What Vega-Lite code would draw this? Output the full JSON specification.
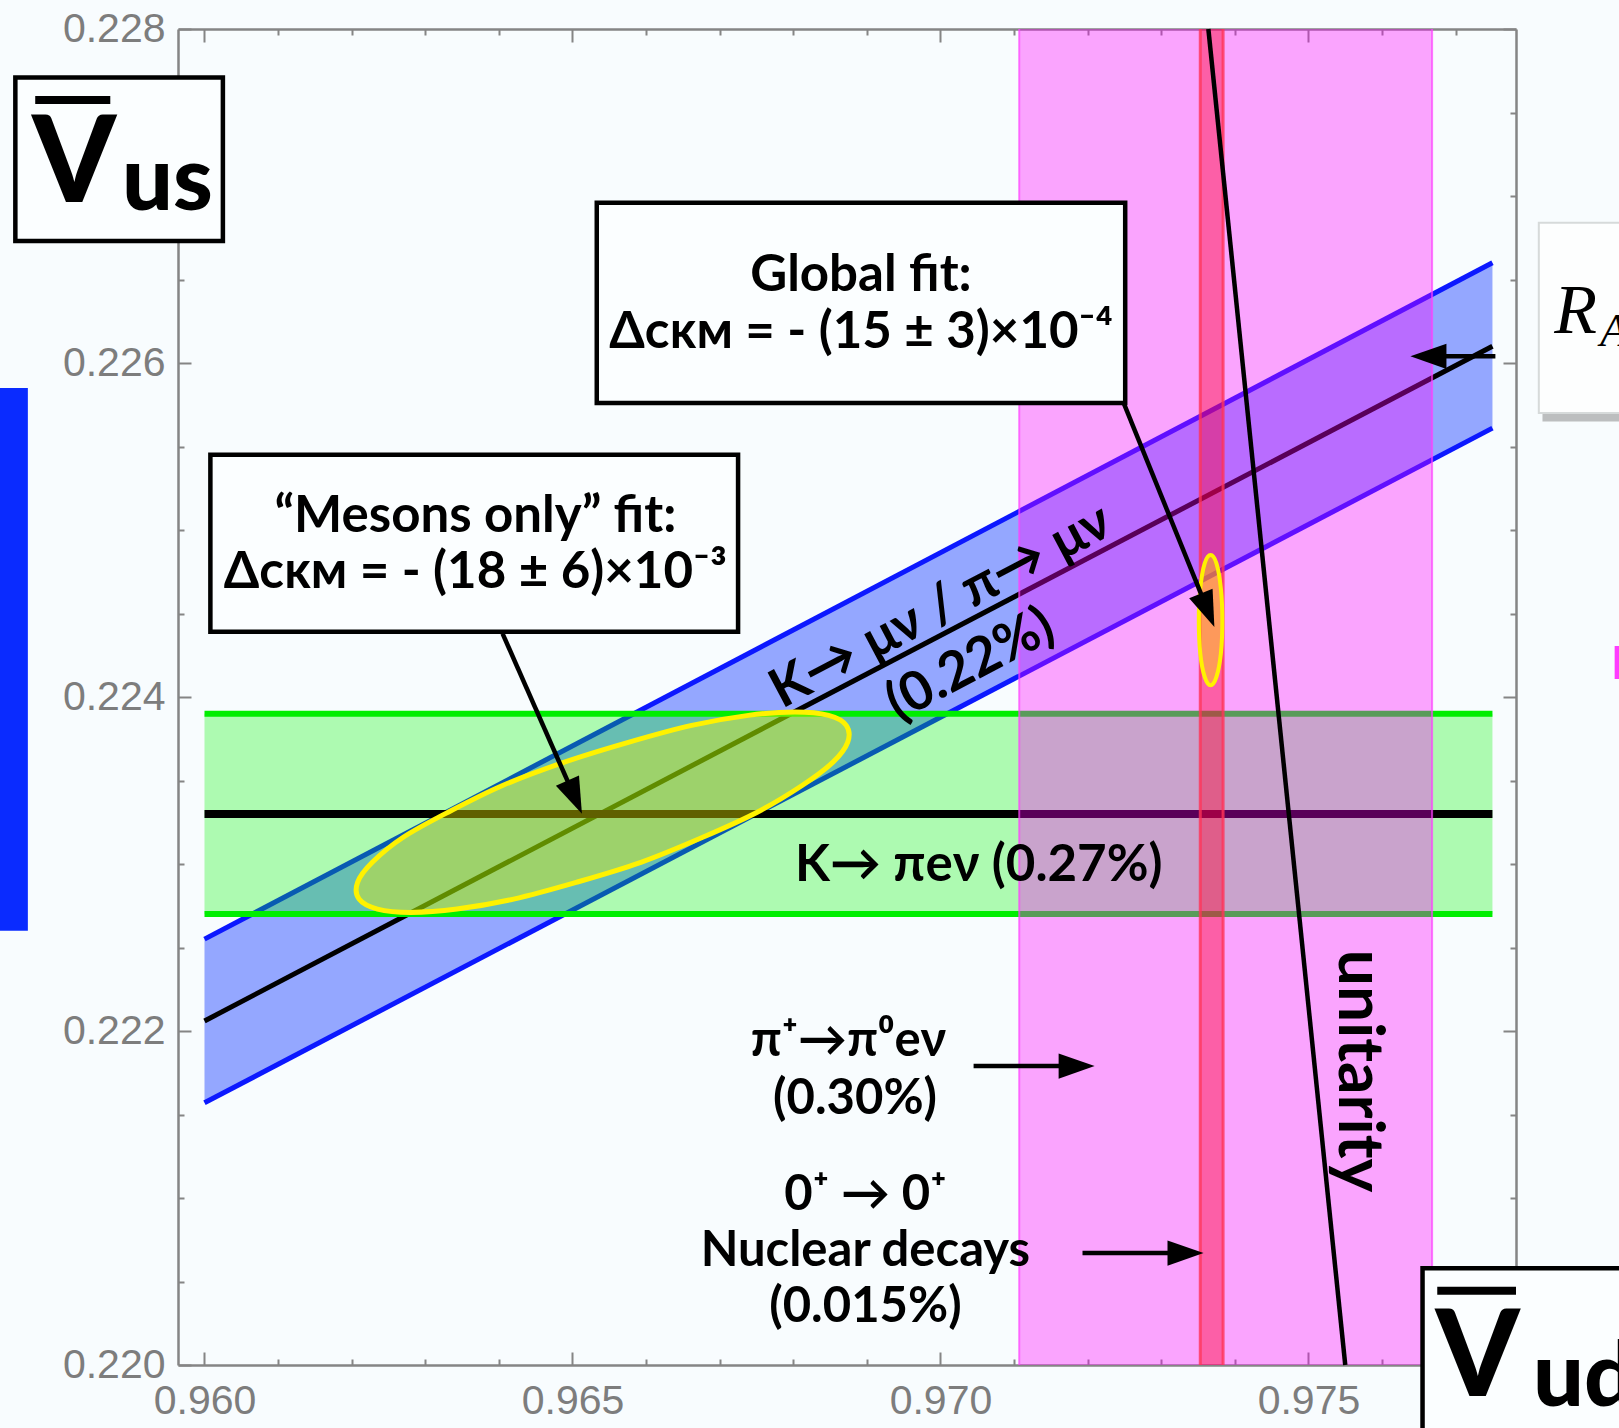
{
  "$schema": "https://vega.github.io/schema/vega-lite/v6.json",
  "width": 1338,
  "height": 1336,
  "autosize": {"type": "none"},
  "padding": {"left": 178, "top": 29, "right": 103, "bottom": 63},
  "background": "#f8fcfe",
  "config": {
    "view": {"stroke": null},
    "axis": {
      "domainColor": "#858585", "domainWidth": 2.5,
      "tickColor": "#858585", "tickWidth": 2,
      "grid": false, "title": null,
      "labelFont": "Liberation Sans", "labelFontSize": 41, "labelColor": "#7d7d7d",
      "labelOverlap": false, "labelFlush": false, "labelBound": false
    },
    "text": {"font": "Lato", "fontWeight": "bold", "fontSize": 51, "color": "#000000"}
  },
  "resolve": {"axis": {"x": "independent", "y": "independent"}},
  "encoding": {
    "x": {"field": "x", "type": "quantitative", "scale": {"domain": [0.95964, 0.97782], "nice": false, "zero": false}, "axis": null},
    "y": {"field": "y", "type": "quantitative", "scale": {"domain": [0.22, 0.228], "nice": false, "zero": false}, "axis": null}
  },
  "layer": [
    {
      "data": {"values": [{"x": 0.96, "y": 0.22157, "y2": 0.22255}, {"x": 0.9775, "y": 0.22561, "y2": 0.2266}]},
      "mark": {"type": "area", "fill": "#2f52ff", "fillOpacity": 0.5},
      "encoding": {"y2": {"field": "y2"}}
    },
    {
      "data": {"values": [{"x": 0.96, "y": 0.22255, "x2": 0.9775, "y2": 0.2266}, {"x": 0.96, "y": 0.22157, "x2": 0.9775, "y2": 0.22561}]},
      "mark": {"type": "rule", "color": "#0c18ff", "strokeWidth": 5},
      "encoding": {"x2": {"field": "x2"}, "y2": {"field": "y2"}}
    },
    {
      "data": {"values": [{"x": 0.96, "y": 0.22206, "x2": 0.9775, "y2": 0.2261}]},
      "mark": {"type": "rule", "color": "#000000", "strokeWidth": 5},
      "encoding": {"x2": {"field": "x2"}, "y2": {"field": "y2"}}
    },
    {
      "data": {"values": [{"x": 0.96, "x2": 0.9775, "y": 0.2227, "y2": 0.2239}]},
      "mark": {"type": "rect", "fill": "#00f500", "fillOpacity": 0.3},
      "encoding": {"x2": {"field": "x2"}, "y2": {"field": "y2"}}
    },
    {
      "data": {"values": [{"x": 0.96, "x2": 0.9775, "y": 0.2239}, {"x": 0.96, "x2": 0.9775, "y": 0.2227}]},
      "mark": {"type": "rule", "color": "#00ee00", "strokeWidth": 6},
      "encoding": {"x2": {"field": "x2"}}
    },
    {
      "data": {"values": [{"x": 0.96, "x2": 0.9775, "y": 0.2233}]},
      "mark": {"type": "rule", "color": "#000000", "strokeWidth": 8},
      "encoding": {"x2": {"field": "x2"}}
    },
    {
      "data": {"values": [
        {"i": 0, "x": 0.96802, "y": 0.22391}, {"i": 1, "x": 0.96848, "y": 0.22389},
        {"i": 2, "x": 0.96872, "y": 0.22383}, {"i": 3, "x": 0.96874, "y": 0.22373},
        {"i": 4, "x": 0.96854, "y": 0.22361}, {"i": 5, "x": 0.96812, "y": 0.22347},
        {"i": 6, "x": 0.96751, "y": 0.22331}, {"i": 7, "x": 0.96677, "y": 0.22316},
        {"i": 8, "x": 0.96593, "y": 0.22301}, {"i": 9, "x": 0.96505, "y": 0.22289},
        {"i": 10, "x": 0.9642, "y": 0.22279}, {"i": 11, "x": 0.96343, "y": 0.22273},
        {"i": 12, "x": 0.9628, "y": 0.22271}, {"i": 13, "x": 0.96235, "y": 0.22273},
        {"i": 14, "x": 0.9621, "y": 0.22279}, {"i": 15, "x": 0.96208, "y": 0.22289},
        {"i": 16, "x": 0.96228, "y": 0.22301}, {"i": 17, "x": 0.9627, "y": 0.22316},
        {"i": 18, "x": 0.96331, "y": 0.22331}, {"i": 19, "x": 0.96405, "y": 0.22347},
        {"i": 20, "x": 0.96489, "y": 0.22361}, {"i": 21, "x": 0.96577, "y": 0.22373},
        {"i": 22, "x": 0.96662, "y": 0.22383}, {"i": 23, "x": 0.96739, "y": 0.22389}
      ]},
      "mark": {"type": "line", "interpolate": "cardinal-closed", "fill": "#f0f000", "fillOpacity": 0.4, "stroke": "#fff200", "strokeWidth": 5},
      "encoding": {"order": {"field": "i", "type": "quantitative"}}
    },
    {
      "data": {"values": [{"x": 0.97107, "x2": 0.97668, "y": 0.22, "y2": 0.228}]},
      "mark": {"type": "rect", "fill": "#ff00ff", "fillOpacity": 0.35},
      "encoding": {
        "x": {"field": "x", "type": "quantitative", "scale": {"domain": [0.95964, 0.97782], "nice": false, "zero": false},
          "axis": {
            "orient": "bottom",
            "values": [0.96, 0.961, 0.962, 0.963, 0.964, 0.965, 0.966, 0.967, 0.968, 0.969, 0.97, 0.971, 0.972, 0.973, 0.974, 0.975, 0.976, 0.977],
            "labelExpr": "abs(datum.value*200 - round(datum.value*200)) < 0.01 ? format(datum.value, '.3f') : ''",
            "tickSize": {"condition": {"test": "abs(datum.value*200 - round(datum.value*200)) < 0.01", "value": -13}, "value": -6},
            "labelPadding": 29
          }},
        "x2": {"field": "x2"},
        "y": {"field": "y", "type": "quantitative", "scale": {"domain": [0.22, 0.228], "nice": false, "zero": false},
          "axis": {
            "orient": "left",
            "values": [0.22, 0.2205, 0.221, 0.2215, 0.222, 0.2225, 0.223, 0.2235, 0.224, 0.2245, 0.225, 0.2255, 0.226, 0.2265, 0.227, 0.2275, 0.228],
            "labelExpr": "abs(datum.value*500 - round(datum.value*500)) < 0.01 ? format(datum.value, '.3f') : ''",
            "tickSize": {"condition": {"test": "abs(datum.value*500 - round(datum.value*500)) < 0.01", "value": -13}, "value": -6},
            "labelPadding": 26
          }},
        "y2": {"field": "y2"}
      }
    },
    {
      "data": {"values": [{"x": 0.97107, "y": 0.22, "y2": 0.228}, {"x": 0.97668, "y": 0.22, "y2": 0.228}]},
      "mark": {"type": "rule", "color": "#ff40ff", "strokeWidth": 2, "opacity": 0.7},
      "encoding": {"y2": {"field": "y2"}}
    },
    {
      "data": {"values": [{"x": 0.97353, "x2": 0.97384, "y": 0.22, "y2": 0.228}]},
      "mark": {"type": "rect", "fill": "#ff0030", "fillOpacity": 0.42},
      "encoding": {
        "x": {"field": "x", "type": "quantitative", "scale": {"domain": [0.95964, 0.97782], "nice": false, "zero": false},
          "axis": {
            "orient": "top", "labels": false,
            "values": [0.96, 0.961, 0.962, 0.963, 0.964, 0.965, 0.966, 0.967, 0.968, 0.969, 0.97, 0.971, 0.972, 0.973, 0.974, 0.975, 0.976, 0.977],
            "tickSize": {"condition": {"test": "abs(datum.value*200 - round(datum.value*200)) < 0.01", "value": -13}, "value": -6}
          }},
        "x2": {"field": "x2"},
        "y": {"field": "y", "type": "quantitative", "scale": {"domain": [0.22, 0.228], "nice": false, "zero": false},
          "axis": {
            "orient": "right", "labels": false,
            "values": [0.22, 0.2205, 0.221, 0.2215, 0.222, 0.2225, 0.223, 0.2235, 0.224, 0.2245, 0.225, 0.2255, 0.226, 0.2265, 0.227, 0.2275, 0.228],
            "tickSize": {"condition": {"test": "abs(datum.value*500 - round(datum.value*500)) < 0.01", "value": -13}, "value": -6}
          }},
        "y2": {"field": "y2"}
      }
    },
    {
      "data": {"values": [{"x": 0.97353, "y": 0.22, "y2": 0.228}, {"x": 0.97384, "y": 0.22, "y2": 0.228}]},
      "mark": {"type": "rule", "color": "#ff3358", "strokeWidth": 3, "opacity": 0.8},
      "encoding": {"y2": {"field": "y2"}}
    },
    {
      "data": {"values": [
        {"i": 0, "x": 0.97367, "y": 0.22485}, {"i": 1, "x": 0.97375, "y": 0.2248},
        {"i": 2, "x": 0.97381, "y": 0.22465}, {"i": 3, "x": 0.97383, "y": 0.22446},
        {"i": 4, "x": 0.97381, "y": 0.22426}, {"i": 5, "x": 0.97375, "y": 0.22412},
        {"i": 6, "x": 0.97367, "y": 0.22407}, {"i": 7, "x": 0.97359, "y": 0.22412},
        {"i": 8, "x": 0.97353, "y": 0.22426}, {"i": 9, "x": 0.97351, "y": 0.22446},
        {"i": 10, "x": 0.97353, "y": 0.22465}, {"i": 11, "x": 0.97359, "y": 0.2248}
      ]},
      "mark": {"type": "line", "interpolate": "cardinal-closed", "fill": "#ffe000", "fillOpacity": 0.45, "stroke": "#fff200", "strokeWidth": 4},
      "encoding": {"order": {"field": "i", "type": "quantitative"}}
    },
    {
      "data": {"values": [{"x": 0.97364, "y": 0.228, "x2": 0.9755, "y2": 0.22}]},
      "mark": {"type": "rule", "color": "#000000", "strokeWidth": 4.5},
      "encoding": {"x2": {"field": "x2"}, "y2": {"field": "y2"}}
    },
    {
      "data": {"values": [
        {"box": "global", "x": 0.96533, "x2": 0.97251, "y": 0.22576, "y2": 0.22696},
        {"box": "mesons", "x": 0.96008, "x2": 0.96725, "y": 0.22439, "y2": 0.22545},
        {"box": "vus", "x": 0.95743, "x2": 0.96025, "y": 0.22673, "y2": 0.22771},
        {"box": "vud", "x": 0.97655, "x2": 0.982, "y": 0.218, "y2": 0.22058}
      ]},
      "mark": {"type": "rect", "fill": "#fbfeff", "stroke": "#000000", "strokeWidth": 4.5},
      "encoding": {"x2": {"field": "x2"}, "y2": {"field": "y2"}}
    },
    {
      "data": {"values": [{"x": 0.97818, "x2": 0.982, "y": 0.22565, "y2": 0.2268}]},
      "mark": {"type": "rect", "fill": "#8a8a8a", "fillOpacity": 0.55},
      "encoding": {"x2": {"field": "x2"}, "y2": {"field": "y2"}}
    },
    {
      "data": {"values": [{"x": 0.97813, "x2": 0.982, "y": 0.2257, "y2": 0.22684}]},
      "mark": {"type": "rect", "fill": "#fdfefe", "stroke": "#d6dada", "strokeWidth": 2},
      "encoding": {"x2": {"field": "x2"}, "y2": {"field": "y2"}}
    },
    {
      "data": {"values": [{"x": 0.95722, "x2": 0.9576, "y": 0.2226, "y2": 0.22585}]},
      "mark": {"type": "rect", "fill": "#0a2bff"},
      "encoding": {"x2": {"field": "x2"}, "y2": {"field": "y2"}}
    },
    {
      "data": {"values": [
        {"x": 0.9577, "x2": 0.95872, "y": 0.227575, "y2": 0.227575},
        {"x": 0.97675, "x2": 0.97782, "y": 0.220445, "y2": 0.220445}
      ]},
      "mark": {"type": "rule", "color": "#000000", "strokeWidth": 8},
      "encoding": {"x2": {"field": "x2"}, "y2": {"field": "y2"}}
    },
    {
      "data": {"values": [
        {"x": 0.96405, "y": 0.22438, "x2": 0.96503, "y2": 0.2234},
        {"x": 0.97249, "y": 0.22576, "x2": 0.97363, "y2": 0.22452},
        {"x": 0.97045, "y": 0.22179, "x2": 0.97185, "y2": 0.22179},
        {"x": 0.97193, "y": 0.22067, "x2": 0.97333, "y2": 0.22067},
        {"x": 0.97754, "y": 0.22604, "x2": 0.97663, "y2": 0.22604}
      ]},
      "mark": {"type": "rule", "color": "#000000", "strokeWidth": 4.5},
      "encoding": {"x2": {"field": "x2"}, "y2": {"field": "y2"}}
    },
    {
      "data": {"values": [{"x": 0.96503, "y": 0.2234}]},
      "mark": {"type": "point", "shape": "M1,0L-1,-0.7L-1,0.7Z", "size": 1300, "filled": true, "color": "#000000", "opacity": 1, "angle": 66.3}
    },
    {
      "data": {"values": [{"x": 0.97363, "y": 0.22452}]},
      "mark": {"type": "point", "shape": "M1,0L-1,-0.7L-1,0.7Z", "size": 1300, "filled": true, "color": "#000000", "opacity": 1, "angle": 68}
    },
    {
      "data": {"values": [{"x": 0.97185, "y": 0.22179}, {"x": 0.97333, "y": 0.22067}]},
      "mark": {"type": "point", "shape": "M1,0L-1,-0.7L-1,0.7Z", "size": 1300, "filled": true, "color": "#000000", "opacity": 1, "angle": 0}
    },
    {
      "data": {"values": [{"x": 0.97663, "y": 0.22604}]},
      "mark": {"type": "point", "shape": "M1,0L-1,-0.7L-1,0.7Z", "size": 1300, "filled": true, "color": "#000000", "opacity": 1, "angle": 180}
    },
    {
      "data": {"values": [
        {"x": 0.96892, "y": 0.22652, "label": "Global fit:"},
        {"x": 0.96892, "y": 0.22618, "label": "Δᴄᴋᴍ = - (15 ± 3)×10⁻⁴"},
        {"x": 0.96368, "y": 0.22508, "label": "“Mesons only” fit:"},
        {"x": 0.96368, "y": 0.22474, "label": "Δᴄᴋᴍ  = - (18 ± 6)×10⁻³"},
        {"x": 0.97052, "y": 0.22299, "label": "K→ πeν (0.27%)"}
      ]},
      "mark": {"type": "text", "align": "center", "baseline": "middle"},
      "encoding": {"text": {"field": "label"}}
    },
    {
      "data": {"values": [
        {"x": 0.96875, "y": 0.22194, "label": "π⁺→π⁰eν"},
        {"x": 0.96884, "y": 0.22159, "label": "(0.30%)"},
        {"x": 0.96898, "y": 0.22102, "label": "0⁺ → 0⁺"},
        {"x": 0.96898, "y": 0.22068, "label": "Nuclear decays"},
        {"x": 0.96898, "y": 0.22035, "label": "(0.015%)"}
      ]},
      "mark": {"type": "text", "align": "center", "baseline": "middle", "fontSize": 49},
      "encoding": {"text": {"field": "label"}}
    },
    {
      "data": {"values": [
        {"x": 0.97001, "y": 0.22454, "label": "K→ μν / π→ μν"},
        {"x": 0.97041, "y": 0.22419, "label": "(0.22%)"}
      ]},
      "mark": {"type": "text", "align": "center", "baseline": "middle", "angle": -27.86, "fontSize": 54},
      "encoding": {"text": {"field": "label"}}
    },
    {
      "data": {"values": [{"x": 0.97567, "y": 0.22176, "label": "unitarity"}]},
      "mark": {"type": "text", "align": "center", "baseline": "middle", "angle": 90, "fontSize": 64},
      "encoding": {"text": {"field": "label"}}
    },
    {
      "data": {"values": [
        {"x": 0.95823, "y": 0.226964, "label": "V"},
        {"x": 0.9773, "y": 0.219814, "label": "V"}
      ]},
      "mark": {"type": "text", "align": "center", "baseline": "alphabetic", "fontSize": 120, "fontWeight": 900},
      "encoding": {"text": {"field": "label"}}
    },
    {
      "data": {"values": [
        {"x": 0.95888, "y": 0.226916, "label": "us"},
        {"x": 0.97805, "y": 0.219755, "label": "ud"}
      ]},
      "mark": {"type": "text", "align": "left", "baseline": "alphabetic", "fontSize": 90, "fontWeight": 900},
      "encoding": {"text": {"field": "label"}}
    },
    {
      "data": {"values": [{"x": 0.97834, "y": 0.22618, "label": "R"}]},
      "mark": {"type": "text", "align": "left", "baseline": "alphabetic", "font": "Liberation Serif", "fontStyle": "italic", "fontWeight": "normal", "fontSize": 70},
      "encoding": {"text": {"field": "label"}}
    },
    {
      "data": {"values": [{"x": 0.97896, "y": 0.2261, "label": "A"}]},
      "mark": {"type": "text", "align": "left", "baseline": "alphabetic", "font": "Liberation Serif", "fontStyle": "italic", "fontWeight": "normal", "fontSize": 46},
      "encoding": {"text": {"field": "label"}}
    },
    {
      "data": {"values": [{"x": 0.97911, "y": 0.22419, "label": "F"}]},
      "mark": {"type": "text", "align": "left", "baseline": "middle", "color": "#ff3cff", "fontSize": 46},
      "encoding": {"text": {"field": "label"}}
    }
  ]
}
